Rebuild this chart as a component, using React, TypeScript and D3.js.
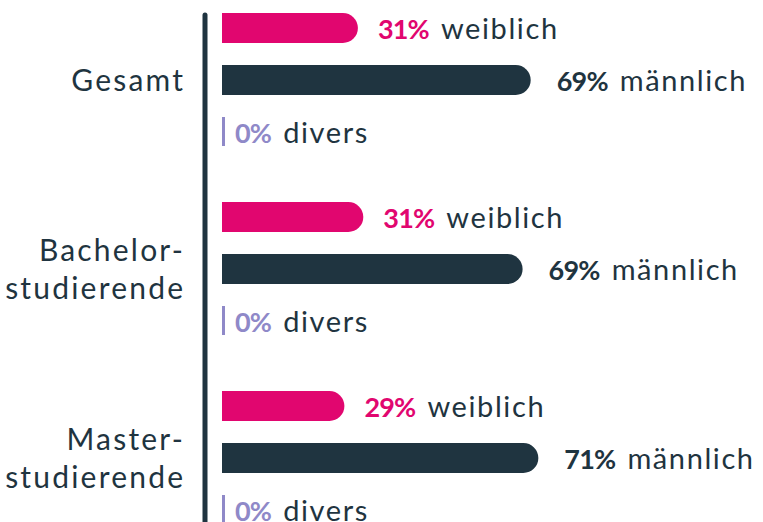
import React from "react";
import * as d3 from "d3";

const categories = ["Gesamt", "Bachelor-\nstudierende", "Master-\nstudierende"];
const genders = ["weiblich", "männlich", "divers"];
// bar lengths (% of total)
const weiblichValues = [30.2, 31.4, 27.2];
const maennlichValues = [68.6, 66.8, 70.3];
const diversValues = [0, 0, 0];
// labels as printed
const weiblichLabels = ["31%", "31%", "29%"];
const maennlichLabels = ["69%", "69%", "71%"];
const diversLabels = ["0%", "0%", "0%"];

const W = 763;
const H = 522;
const FONT = "Lato, 'Open Sans', sans-serif";
const COLORS: Record<string, string> = {
  weiblich: "#e1066f",
  männlich: "#1f3440",
  divers: "#8f89c8",
};
const TEXT = "#1f3440";

export default function App() {
  const x = d3.scaleLinear().domain([0, 100]).range([222, 672]);
  const yGroup = d3.scaleBand<string>().domain(categories).range([2, 2 + 3 * 189]);
  const yInner = d3
    .scaleBand<string>()
    .domain(genders)
    .range([0, 156])
    .paddingInner(22 / 52)
    .paddingOuter(11 / 52);

  const values: Record<string, number[]> = {
    weiblich: weiblichValues,
    männlich: maennlichValues,
    divers: diversValues,
  };
  const labels: Record<string, string[]> = {
    weiblich: weiblichLabels,
    männlich: maennlichLabels,
    divers: diversLabels,
  };
  const gap: Record<string, number> = { weiblich: 20, männlich: 26, divers: 13 };
  const bw = yInner.bandwidth();
  const catLS = 2.2;

  const barPath = (x0: number, x1: number, y: number, h: number) => {
    const r = h / 2;
    const len = x1 - x0;
    if (len <= r) return `M${x0},${y}H${x1}V${y + h}H${x0}Z`;
    return `M${x0},${y}H${x1 - r}A${r},${r} 0 0 1 ${x1 - r},${y + h}H${x0}Z`;
  };

  return (
    <svg
      width={W}
      height={H}
      style={{ position: "absolute", left: 0, top: 0, display: "block" }}
      fontFamily={FONT}
    >
      <rect width={W} height={H} fill="#ffffff" />
      {categories.map((cat, ci) => {
        const g0 = yGroup(cat)!;
        const centerM = g0 + yInner("männlich")! + bw / 2;
        const lines = cat.split("\n");
        return (
          <g key={cat}>
            <text textAnchor="end" fontSize={30} letterSpacing={catLS} fill={TEXT}>
              {lines.map((ln, li) => (
                <tspan key={li} x={183 + catLS} y={centerM + 11 + (li - (lines.length - 1) / 2) * 38}>
                  {ln}
                </tspan>
              ))}
            </text>
            {genders.map((gd) => {
              const v = values[gd][ci];
              const yy = g0 + yInner(gd)!;
              const isZero = v === 0;
              const xEnd = isZero ? x(0) + 3 : x(v);
              return (
                <g key={gd}>
                  {isZero ? (
                    <rect x={x(0)} y={yy} width={3} height={bw - 1} fill={COLORS[gd]} />
                  ) : (
                    <path d={barPath(x(0), xEnd, yy, bw)} fill={COLORS[gd]} />
                  )}
                  <text
                    x={(isZero ? x(0) : xEnd) + gap[gd]}
                    y={yy + bw / 2 + 10.5}
                    fill={TEXT}
                  >
                    <tspan fontWeight={700} fontSize={27} letterSpacing={-0.8} fill={COLORS[gd]}>
                      {labels[gd][ci]}
                    </tspan>
                    <tspan dx={12} fontSize={29} letterSpacing={1.6}>
                      {gd}
                    </tspan>
                  </text>
                </g>
              );
            })}
          </g>
        );
      })}
      <line x1={205} x2={205} y1={15} y2={H + 10} stroke="#1f3440" strokeWidth={5} strokeLinecap="round" />
    </svg>
  );
}
